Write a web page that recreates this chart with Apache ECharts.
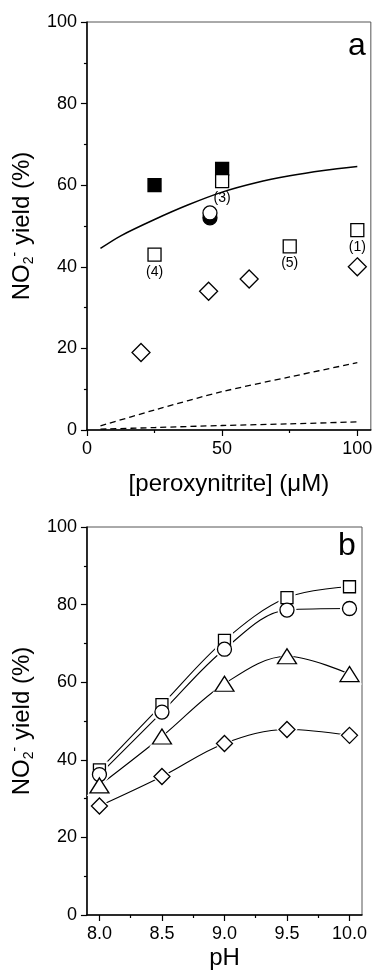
<!DOCTYPE html>
<html>
<head>
<meta charset="utf-8">
<script src="https://cdn.jsdelivr.net/npm/echarts@6/dist/echarts.min.js"></script>
<style>
html, body { margin: 0; padding: 0; background: #fff; }
#chart { width: 375px; height: 971px; }
</style>
</head>
<body>
<div id="chart"></div>
<script>
// panel a: fitted curve (solid) and two model curves (dashed)
var fitX = [5, 12.5, 25, 37.5, 50, 62.5, 75, 87.5, 100];
var fitY = [44.5, 47.6, 51.6, 55.2, 58.3, 60.6, 62.3, 63.6, 64.6];
var dashX = [5, 25, 50, 75, 100];
var dashHiY = [1, 4.9, 9.4, 13, 16.5];
var dashLoY = [0.2, 0.6, 1.1, 1.5, 2];
// panel a: measured points
var fillSqX = [25, 50], fillSqY = [60, 64];
var openSqX = [25, 50, 75, 100], openSqY = [43, 61, 45, 49];
var openSqLabel = ['(4)', '(3)', '(5)', '(1)'];
var fillCircX = [45.5], fillCircY = [52];
var openCircX = [45.5], openCircY = [53.2];
var diaX = [20, 45, 60, 100], diaY = [19, 34, 37, 40];
var xTicksA = [0, 50, 100], xMinorA = [25, 75];

// panel b: yield vs pH
var ph = [8.0, 8.5, 9.0, 9.5, 10.0];
var bSquare = [37.4, 54.2, 70.8, 81.8, 84.6];
var bCircle = [36.2, 52.3, 68.5, 78.6, 79.0];
var bTriangle = [33.4, 46.0, 59.6, 66.7, 62.1];
var bDiamond = [28.1, 35.7, 44.2, 47.8, 46.3];
var xMinorB = [8.25, 8.75, 9.25, 9.75];

var FONT = 'Liberation Sans, Arial, sans-serif';

function pairs(xs, ys) {
    return xs.map(function(x, i) { return [x, ys[i]]; });
}

function mainXAxis(grid, min, max, ticks, name, gap, fmt) {
    return {
        gridIndex: grid, type: 'value', min: min, max: max, position: 'bottom',
        axisLine: { lineStyle: { color: '#000', width: 1.5 } },
        axisTick: { customValues: ticks, length: 6, lineStyle: { color: '#000', width: 1.2 } },
        axisLabel: { customValues: ticks, fontSize: 18, fontFamily: FONT, color: '#000', margin: 10, formatter: fmt },
        splitLine: { show: false },
        name: name, nameLocation: 'middle', nameGap: gap,
        nameTextStyle: { fontSize: 24, fontFamily: FONT, color: '#000' }
    };
}
function minorXAxis(grid, min, max, ticks) {
    return {
        gridIndex: grid, type: 'value', min: min, max: max, position: 'bottom',
        axisLine: { show: false },
        axisTick: { customValues: ticks, length: 3, lineStyle: { color: '#000', width: 1.2 } },
        axisLabel: { show: false },
        splitLine: { show: false }
    };
}
function yAxis(grid) {
    return {
        gridIndex: grid, type: 'value', min: 0, max: 100, interval: 20,
        axisLine: { show: true, lineStyle: { color: '#000', width: 1.5 } },
        axisTick: { show: true, length: 6, lineStyle: { color: '#000', width: 1.2 } },
        minorTick: { show: true, splitNumber: 2, length: 3, lineStyle: { color: '#000', width: 1.2 } },
        axisLabel: { fontSize: 18, fontFamily: FONT, color: '#000', margin: 10 },
        splitLine: { show: false },
        name: '{a|NO}{s|2}{p|-}{a| yield (%)}',
        nameLocation: 'middle', nameGap: 46,
        nameTextStyle: {
            fontSize: 24, fontFamily: FONT, color: '#000',
            rich: {
                a: { fontSize: 24, fontFamily: FONT, color: '#000', lineHeight: 28 },
                s: { fontSize: 14, fontFamily: FONT, color: '#000', verticalAlign: 'bottom', lineHeight: 14 },
                p: { fontSize: 14, fontFamily: FONT, color: '#000', verticalAlign: 'top', lineHeight: 14 }
            }
        }
    };
}

function curve(data, dashed) {
    return {
        type: 'line', xAxisIndex: 0, yAxisIndex: 0, data: data,
        smooth: 0.3,
        symbol: 'none', silent: true, z: 2,
        lineStyle: { color: '#000', width: dashed ? 1.3 : 1.5, type: dashed ? [6, 4] : 'solid' }
    };
}
function points(data, symbol, size, filled, xi, yi, z) {
    return {
        type: 'scatter', xAxisIndex: xi, yAxisIndex: yi, data: data,
        symbol: symbol, symbolSize: size, z: z || 4,
        itemStyle: { color: filled ? '#000' : '#fff', borderColor: '#000', borderWidth: 1.3, opacity: 1 }
    };
}
// panel b: smooth line, white halo (line gap), then marker
function phGroup(vals, symbol, size, haloSize) {
    var data = pairs(ph, vals);
    return [
        {
            type: 'line', xAxisIndex: 2, yAxisIndex: 1, data: data, smooth: 0.35,
            symbol: 'none', z: 2, lineStyle: { color: '#000', width: 1.1 }
        },
        {
            type: 'scatter', xAxisIndex: 2, yAxisIndex: 1, data: data, symbol: symbol,
            symbolSize: haloSize, z: 3, silent: true, itemStyle: { color: '#fff', opacity: 1 }
        },
        points(data, symbol, size, false, 2, 1, 4)
    ];
}

var openSq = points(pairs(openSqX, openSqY), 'rect', 13, false, 0, 0, 5);
openSq.label = {
    show: true, position: 'bottom', distance: 3,
    fontSize: 14, fontFamily: FONT, color: '#000',
    formatter: function(p) { return openSqLabel[p.dataIndex]; }
};

var series = [
    curve(pairs(fitX, fitY), false),
    curve(pairs(dashX, dashHiY), true),
    curve(pairs(dashX, dashLoY), true),
    points(pairs(fillSqX, fillSqY), 'rect', 13, true, 0, 0, 4),
    openSq,
    points(pairs(fillCircX, fillCircY), 'circle', 14, true, 0, 0, 4),
    points(pairs(openCircX, openCircY), 'circle', 14, false, 0, 0, 5),
    points(pairs(diaX, diaY), 'diamond', 18, false, 0, 0, 4)
]
.concat(phGroup(bSquare, 'rect', 12, 17))
.concat(phGroup(bCircle, 'circle', 14, 19))
.concat(phGroup(bTriangle, 'triangle', [19, 15], [25, 21]))
.concat(phGroup(bDiamond, 'diamond', 16, 21));

var myChart = echarts.init(document.getElementById('chart'), null, { renderer: 'canvas' });
var option = {
    animation: false,
    backgroundColor: '#fff',
    grid: [
        { left: 80, top: 22, right: 2, bottom: 541, show: true, borderColor: '#555', borderWidth: 1 },
        { left: 80, top: 527, right: 13, bottom: 51, show: true, borderColor: '#555', borderWidth: 1 }
    ],
    xAxis: [
        mainXAxis(0, 0, 105, xTicksA, '[peroxynitrite] (\u03bcM)', 42, null),
        minorXAxis(0, 0, 105, xMinorA),
        mainXAxis(1, 7.9, 10.1, ph, 'pH', 31, function(v) { return v.toFixed(1); }),
        minorXAxis(1, 7.9, 10.1, xMinorB)
    ],
    yAxis: [yAxis(0), yAxis(1)],
    graphic: [
        { type: 'text', x: 357, y: 46, style: { text: 'a', fontSize: 32, fontFamily: FONT, fill: '#000', align: 'center', verticalAlign: 'middle' } },
        { type: 'text', x: 347, y: 546, style: { text: 'b', fontSize: 32, fontFamily: FONT, fill: '#000', align: 'center', verticalAlign: 'middle' } }
    ],
    series: series
};
myChart.setOption(option);
</script>
</body>
</html>
